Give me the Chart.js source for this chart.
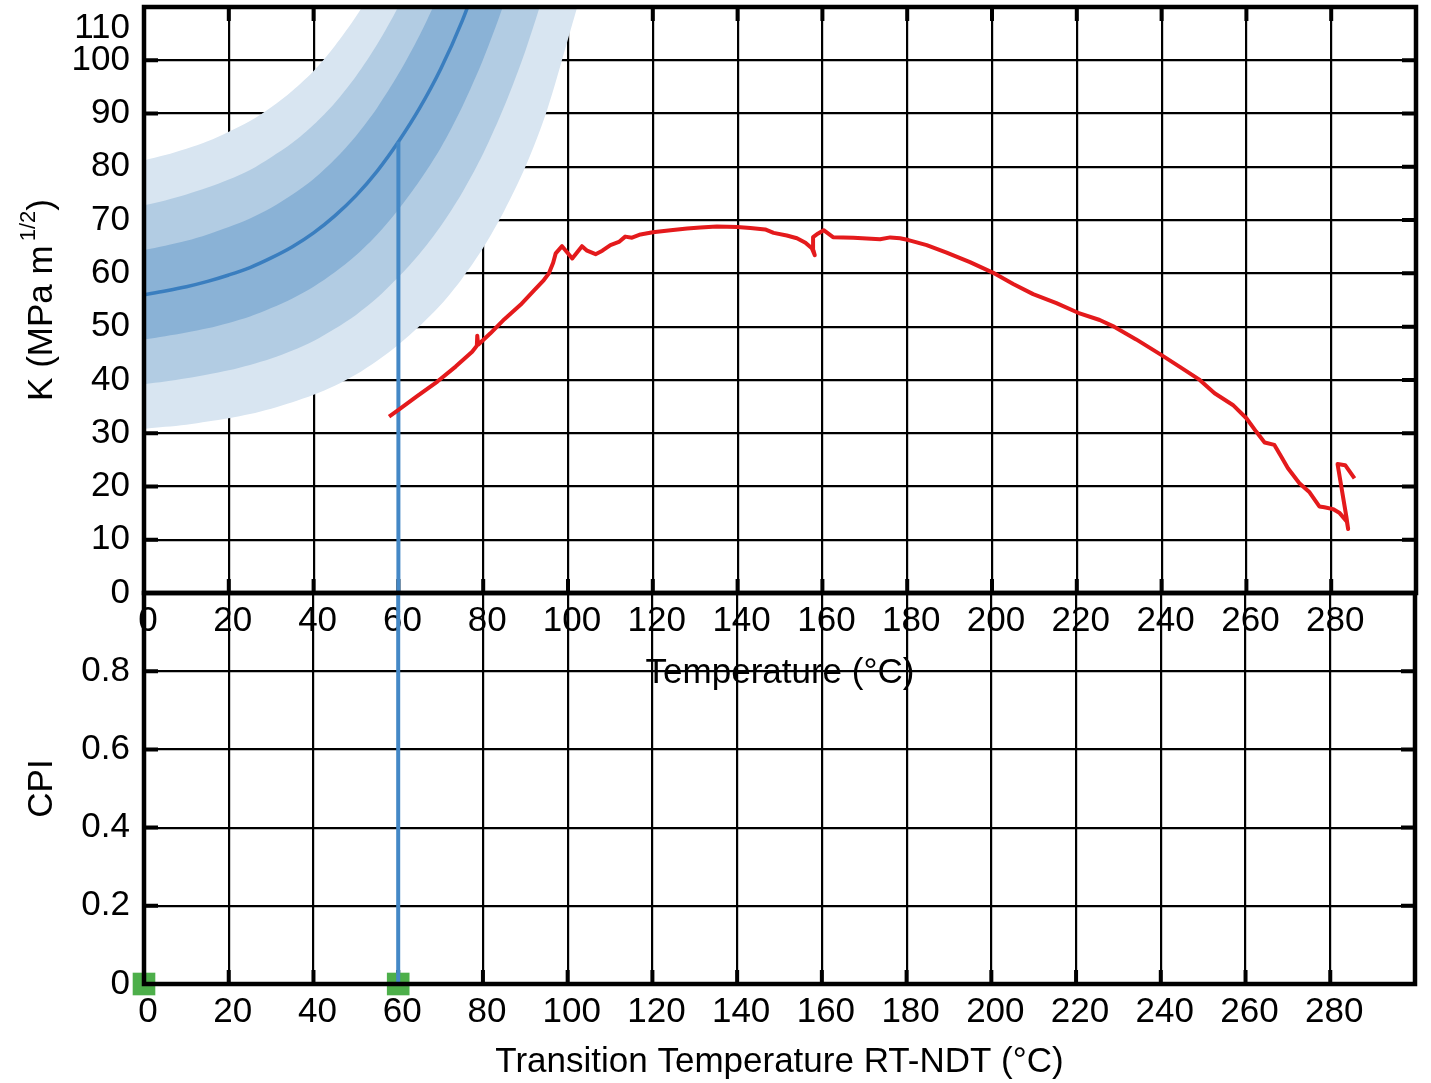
<!DOCTYPE html>
<html>
<head>
<meta charset="utf-8">
<script src="https://cdn.jsdelivr.net/npm/chart.js@4/dist/chart.umd.min.js"></script>
<style>
html, body { margin: 0; padding: 0; background: #fff; }
#wrap { position: relative; width: 1431px; height: 1083px; }
#wrap canvas { position: absolute; left: 0; top: 0; }
</style>
</head>
<body>
<div id="wrap">
  <canvas id="topChart" width="1431" height="1083"></canvas>
  <canvas id="botChart" width="1431" height="1083"></canvas>
</div>
<script>
// ---------- tick labels ----------
const tempTickLabels = ['0','20','40','60','80','100','120','140','160','180','200','220','240','260','280',''];
const kTickLabels = ['0','10','20','30','40','50','60','70','80','90','100','110'];
const cpiTickLabels = ['0','0.2','0.4','0.6','0.8',''];

// ---------- reference curve and its bands (temperature grid, K values) ----------
const bandT = [0,5,10,15,20,25,30,35,40,45,50,55,60,65,70,75,80,85,90,95,100,105,110];
const medianK     = [56.0,56.7,57.5,58.5,59.7,61.1,62.9,65.0,67.6,70.8,74.6,79.2,84.7,91.0,98.4,107.3,117.9];
const darkUpperK  = [64.4,65.2,66.1,67.3,68.7,70.3,72.3,74.8,77.7,81.4,85.8,91.1,97.4,104.7,113.2,123.0];
const midUpperK   = [72.8,73.7,74.8,76.1,77.6,79.4,81.8,84.5,87.9,92.0,97.0,103.0,110.1,118.3];
const lightUpperK = [81.2,82.2,83.4,84.8,86.6,88.6,91.2,94.3,98.0,102.7,108.2,114.8,122.6];
const darkLowerK  = [47.6,48.2,48.9,49.7,50.7,51.9,53.5,55.3,57.5,60.2,63.4,67.3,72.0,77.4,83.6,91.2,100.2,110.9,123.8];
const midLowerK   = [39.2,39.7,40.3,41.0,41.8,42.8,44.0,45.5,47.3,49.6,52.2,55.4,59.3,63.7,68.9,75.1,82.5,91.4,101.9,114.5,129.5];
const lightLowerK = [30.8,31.2,31.6,32.2,32.8,33.6,34.6,35.8,37.2,38.9,41.0,43.6,46.6,50.1,54.1,59.0,64.8,71.8,80.1,90.5,104.0,118.0,133.0];

// ---------- measured K curve (red) ----------
const redT = [57.8,60.1,64.5,69.2,73.5,77.4,78.5,78.6,78.8,81.7,85.0,88.8,92.0,94.3,95.5,96.5,97.1,98.6,101.0,103.3,104.5,106.5,108.1,110.0,112.0,113.5,115.1,117.1,120.0,124.2,128.1,131.2,135.1,139.9,143.0,146.5,148.5,151.6,154.0,156.0,157.5,158.2,157.9,157.8,159.0,160.3,162.5,167.3,173.6,176.0,178.3,180.3,184.6,189.3,194.8,200.3,205.0,209.7,215.2,220.3,225.4,228.5,234.0,239.9,244.2,249.0,252.5,256.8,260.0,262.3,264.3,266.6,268.2,269.8,272.5,274.9,277.2,278.4,280.4,282.0,283.7,284.0,283.6,281.5,283.3,285.5];
const redK = [33.1,34.4,37.0,39.7,42.5,45.3,46.4,48.3,46.6,48.75,51.4,54.1,56.8,58.75,60.0,62.0,63.75,65.1,62.8,65.1,64.25,63.6,64.25,65.3,65.9,66.9,66.7,67.3,67.7,68.1,68.4,68.6,68.8,68.7,68.5,68.25,67.6,67.1,66.6,65.75,64.7,63.4,64.3,66.8,67.5,68.1,66.8,66.7,66.4,66.75,66.6,66.25,65.3,63.9,62.1,60.1,58.0,56.1,54.4,52.6,51.25,50.1,47.6,44.7,42.5,40.0,37.5,35.3,32.8,30.3,28.25,27.8,25.6,23.4,20.6,18.9,16.25,16.1,15.75,15.0,13.4,12.0,14.2,24.2,24.0,21.5];

// ---------- transition temperature and CPI ----------
const rtNdtT = [60, 60];
const rtNdtK = [84.7, 0];
const rtNdtCpi = [1, 0];
const cpiT = [0, 60];
const cpiV = [0, 0];

// ---------- helpers ----------
const xy = (xs, ys) => ys.map((v, i) => ({ x: xs[i], y: v }));
const band = (up, lo) => xy(bandT, up).concat(xy(bandT, lo).reverse());

const FONT_FAMILY = "'Liberation Sans', Arial, sans-serif";
const axisFont = { family: FONT_FAMILY, size: 35, lineHeight: 1.2 };
const gridOpts = { color: '#000', lineWidth: 2.2, drawTicks: false };
const fitY = (w) => (s) => { s.width = w; s.paddingTop = 0; s.paddingBottom = 0; };
const fitX = (h) => (s) => { s.height = h; s.paddingLeft = 0; s.paddingRight = 0; };

const framePlugin = {
  id: 'frame',
  beforeDatasetsDraw(chart, args, o) {
    const { ctx, chartArea: a, scales: { x, y } } = chart;
    const L = 14;
    ctx.save();
    ctx.strokeStyle = '#000';
    ctx.lineWidth = 4;
    ctx.beginPath();
    x.ticks.forEach(t => {
      if (t.value <= x.min || t.value >= x.max) return;
      const p = x.getPixelForValue(t.value);
      if (o.bottom) { ctx.moveTo(p, a.bottom); ctx.lineTo(p, a.bottom - L); }
      if (o.top) { ctx.moveTo(p, a.top); ctx.lineTo(p, a.top + L); }
    });
    y.ticks.forEach(t => {
      if (t.value <= y.min || t.value >= y.max) return;
      const p = y.getPixelForValue(t.value);
      ctx.moveTo(a.left, p); ctx.lineTo(a.left + L, p);
      ctx.moveTo(a.right, p); ctx.lineTo(a.right - L, p);
    });
    ctx.stroke();
    ctx.restore();
  },
  afterDatasetsDraw(chart) {
    const { ctx, chartArea: a } = chart;
    ctx.save();
    ctx.strokeStyle = '#000';
    ctx.lineWidth = 4.5;
    ctx.strokeRect(a.left, a.top, a.right - a.left, a.bottom - a.top);
    ctx.restore();
  }
};

const yTitlePlugin = {
  id: 'ytitle',
  afterDraw(chart, args, o) {
    const { ctx, chartArea: a } = chart;
    const cy = (a.top + a.bottom) / 2;
    const main = "35px " + FONT_FAMILY;
    const small = "22px " + FONT_FAMILY;
    ctx.save();
    ctx.translate(o.x, cy);
    ctx.rotate(-Math.PI / 2);
    ctx.fillStyle = '#000';
    ctx.textBaseline = 'middle';
    ctx.textAlign = 'left';
    let total = 0;
    const ws = o.parts.map(p => {
      ctx.font = p.sup ? small : main;
      const w = ctx.measureText(p.text).width + (p.gap || 0);
      total += w;
      return w;
    });
    let xx = -total / 2;
    o.parts.forEach((p, i) => {
      ctx.font = p.sup ? small : main;
      ctx.fillText(p.text, xx + (p.gap || 0), p.sup ? -13 : 0);
      xx += ws[i];
    });
    ctx.restore();
  }
};

const common = {
  responsive: false,
  animation: false,
  devicePixelRatio: 1,
  events: [],
  elements: { line: { capBezierPoints: false } }
};

// ---------- top panel: K vs temperature ----------
new Chart(document.getElementById('topChart'), {
  type: 'line',
  data: {
    datasets: [
      { data: band(lightUpperK, lightLowerK), fill: 'shape', backgroundColor: '#d8e5f1', borderColor: 'rgba(0,0,0,0)', pointRadius: 0, tension: 0.3, order: 10 },
      { data: band(midUpperK, midLowerK), fill: 'shape', backgroundColor: '#b2cce3', borderColor: 'rgba(0,0,0,0)', pointRadius: 0, tension: 0.3, order: 9 },
      { data: band(darkUpperK, darkLowerK), fill: 'shape', backgroundColor: '#8ab2d6', borderColor: 'rgba(0,0,0,0)', pointRadius: 0, tension: 0.3, order: 8 },
      { data: xy(bandT, medianK), borderColor: '#3a7ebf', borderWidth: 3.5, pointRadius: 0, cubicInterpolationMode: 'monotone', fill: false, order: 7 },
      { data: xy(rtNdtT, rtNdtK), borderColor: '#4488c6', borderWidth: 4, pointRadius: 0, fill: false, order: 6 },
      { data: xy(redT, redK), borderColor: '#e41a1c', borderWidth: 4, pointRadius: 0, fill: false, order: 5, borderJoinStyle: 'round' }
    ]
  },
  options: {
    ...common,
    layout: { padding: { top: 7, right: 15, bottom: 389, left: 0 } },
    plugins: {
      legend: { display: false },
      tooltip: { enabled: false },
      frame: { top: true, bottom: true },
      ytitle: { x: 42, parts: [{ text: 'K (MPa m' }, { text: '1/2', sup: true, gap: 4 }, { text: ')' }] }
    },
    scales: {
      x: {
        type: 'linear', min: 0, max: 300,
        afterFit: fitX(101),
        border: { display: false },
        grid: gridOpts,
        ticks: { stepSize: 20, autoSkip: false, maxRotation: 0, padding: 7, labelOffset: 4, font: axisFont, color: '#000',
                 callback: (v, i) => tempTickLabels[i] },
        title: { display: true, text: 'Temperature (°C)', font: axisFont, color: '#000', padding: 0 }
      },
      y: {
        type: 'linear', min: 0, max: 110,
        afterFit: fitY(144),
        border: { display: false },
        grid: gridOpts,
        ticks: { stepSize: 10, autoSkip: false, padding: 14, font: axisFont, color: '#000',
                 callback: (v, i) => (i === kTickLabels.length - 1 ? ['', kTickLabels[i]] : kTickLabels[i]) }
      }
    }
  },
  plugins: [framePlugin, yTitlePlugin]
});

// ---------- bottom panel: CPI vs transition temperature ----------
new Chart(document.getElementById('botChart'), {
  type: 'line',
  data: {
    datasets: [
      { data: xy(rtNdtT, rtNdtCpi), borderColor: '#4488c6', borderWidth: 4, pointRadius: 0, fill: false, order: 1 },
      { data: xy(cpiT, cpiV), borderColor: '#4daf4a', borderWidth: 3, fill: false, order: 2, clip: false,
        pointStyle: 'rect', pointRadius: 16, pointBackgroundColor: '#4daf4a', pointBorderWidth: 0, pointBorderColor: '#4daf4a' }
    ]
  },
  options: {
    ...common,
    layout: { padding: { top: 593, right: 15, bottom: 0, left: 0 } },
    plugins: {
      legend: { display: false },
      tooltip: { enabled: false },
      frame: { top: false, bottom: true },
      ytitle: { x: 42, parts: [{ text: 'CPI' }] }
    },
    scales: {
      x: {
        type: 'linear', min: 0, max: 300,
        afterFit: fitX(99),
        border: { display: false },
        grid: gridOpts,
        ticks: { stepSize: 20, autoSkip: false, maxRotation: 0, padding: 7, labelOffset: 4, font: axisFont, color: '#000',
                 callback: (v, i) => tempTickLabels[i] },
        title: { display: true, text: 'Transition Temperature RT-NDT (°C)', font: axisFont, color: '#000', padding: 0 }
      },
      y: {
        type: 'linear', min: 0, max: 1,
        afterFit: fitY(144),
        border: { display: false },
        grid: gridOpts,
        ticks: { stepSize: 0.2, autoSkip: false, padding: 14, font: axisFont, color: '#000',
                 callback: (v, i) => cpiTickLabels[i] }
      }
    }
  },
  plugins: [framePlugin, yTitlePlugin]
});
</script>
</body>
</html>
